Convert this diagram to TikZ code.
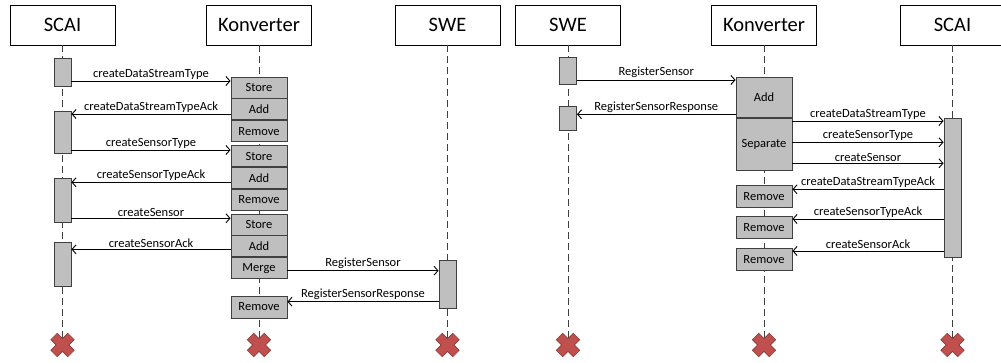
\documentclass[tikz,border=0pt]{standalone}
\usepackage{fontspec}
\setmainfont{Carlito}
\usetikzlibrary{arrows.meta,positioning}
\definecolor{boxgray}{HTML}{BFBFBF}
\definecolor{edgegray}{HTML}{404040}
\definecolor{killred}{HTML}{C0504D}
\definecolor{killedge}{HTML}{8C3836}
\begin{document}
\begin{tikzpicture}[x=1pt,y=-1pt,
  head/.style={draw,line width=0.9pt,minimum width=105,minimum height=40,inner sep=0,font=\fontsize{20.5}{24}\selectfont},
  life/.style={line width=0.9pt,draw=edgegray,dash pattern=on 7pt off 4pt},
  act/.style={draw=edgegray,fill=boxgray,line width=0.9pt,minimum width=17,inner sep=0},
  cell/.style={draw=edgegray,fill=boxgray,line width=0.9pt,minimum width=56,minimum height=21,inner sep=0,font=\fontsize{12.5}{14}\selectfont},
  msg/.style={line width=0.9pt,-{Straight Barb[length=4pt,width=9pt]}},
  lbl/.style={above,inner sep=1.5pt,font=\fontsize{12.5}{14}\selectfont},
  kill/.pic={\filldraw[fill=killred,draw=killedge,line width=0.6pt,rotate=45]
    (-4.5,-12) -- (4.5,-12) -- (4.5,-4.5) -- (12,-4.5) -- (12,4.5) -- (4.5,4.5) -- (4.5,12)
    -- (-4.5,12) -- (-4.5,4.5) -- (-12,4.5) -- (-12,-4.5) -- (-4.5,-4.5) -- cycle;}]
\useasboundingbox (0,0) rectangle (1001,363);

\node[head] (sH) at (62.5,25) {SCAI};
\node[head] (kH) at (259,25) {Konverter};
\node[head] (wH) at (447.5,25) {SWE};
\node[head] (wH2) at (568,25) {SWE};
\node[head] (kH2) at (764,25) {Konverter};
\node[head] (sH2) at (952.5,25) {SCAI};

\coordinate (x1) at (62.5,345);
\coordinate (x2) at (259,345);
\coordinate (x3) at (447.5,345);
\coordinate (x4) at (568,345);
\coordinate (x5) at (764,345);
\coordinate (x6) at (952.5,345);

\draw[life] (sH.south) -- (x1);
\draw[life] (kH.south) -- (x2);
\draw[life] (wH.south) -- (x3);
\draw[life] (wH2.south) -- (x4);
\draw[life] (kH2.south) -- (x5);
\draw[life] (sH2.south) -- (x6);

% left: SCAI -> Konverter -> SWE
\node[act,minimum height=28] (a1) at (62.5,72) {};
\node[act,minimum height=42] (a2) at (62.5,132) {};
\node[act,minimum height=44] (a3) at (62.5,200) {};
\node[act,minimum height=44] (a4) at (62.5,264) {};
\node[act,minimum height=48] (b1) at (447.5,284.5) {};

\node[cell] (st1) at (259,87.5) {Store};
\node[cell,below=0pt of st1] (ad1) {Add};
\node[cell,below=0pt of ad1] (rm1) {Remove};
\node[cell] (st2) at (259,156.2) {Store};
\node[cell,below=0pt of st2] (ad2) {Add};
\node[cell,below=0pt of ad2] (rm2) {Remove};
\node[cell] (st3) at (259,224.5) {Store};
\node[cell,below=0pt of st3] (ad3) {Add};
\node[cell,below=0pt of ad3] (mg3) {Merge};
\node[cell,minimum height=22] (rmL) at (259,307) {Remove};

\draw[msg] (a1.east |- 0,81) -- node[lbl]{createDataStreamType} (st1.west |- 0,81);
\draw[msg] (ad1.west |- 0,114) -- node[lbl]{createDataStreamTypeAck} (a2.east |- 0,114);
\draw[msg] (a2.east |- 0,150) -- node[lbl]{createSensorType} (st2.west |- 0,150);
\draw[msg] (ad2.west |- 0,182.3) -- node[lbl]{createSensorTypeAck} (a3.east |- 0,182.3);
\draw[msg] (a3.east |- 0,218.3) -- node[lbl]{createSensor} (st3.west |- 0,218.3);
\draw[msg] (ad3.west |- 0,249.3) -- node[lbl]{createSensorAck} (a4.east |- 0,249.3);
\draw[msg] (mg3.east |- 0,270.7) -- node[lbl]{RegisterSensor} (b1.west |- 0,270.7);
\draw[msg] (b1.west |- 0,301.7) -- node[lbl]{RegisterSensorResponse} (rmL.east |- 0,301.7);

% right: SWE -> Konverter -> SCAI
\node[act,minimum height=27] (c1) at (568,71.3) {};
\node[act,minimum height=24] (c2) at (568,118) {};
\node[act,minimum height=139.4] (d1) at (952.5,188) {};

\node[cell,minimum height=40] (addR) at (764,97.3) {Add};
\node[cell,minimum height=52.7,below=0pt of addR] (sepR) {Separate};
\node[cell,minimum height=22] (rr1) at (764,196.2) {Remove};
\node[cell,minimum height=22] (rr2) at (764,227.5) {Remove};
\node[cell,minimum height=22] (rr3) at (764,259.2) {Remove};

\draw[msg] (c1.east |- 0,80) -- node[lbl]{RegisterSensor} (addR.west |- 0,80);
\draw[msg] (addR.west |- 0,114.3) -- node[lbl]{RegisterSensorResponse} (c2.east |- 0,114.3);
\draw[msg] (sepR.east |- 0,121) -- node[lbl]{createDataStreamType} (d1.west |- 0,121);
\draw[msg] (sepR.east |- 0,142.3) -- node[lbl]{createSensorType} (d1.west |- 0,142.3);
\draw[msg] (sepR.east |- 0,163.3) -- node[lbl]{createSensor} (d1.west |- 0,163.3);
\draw[msg] (d1.west |- 0,189.3) -- node[lbl]{createDataStreamTypeAck} (rr1.east |- 0,189.3);
\draw[msg] (d1.west |- 0,219) -- node[lbl]{createSensorTypeAck} (rr2.east |- 0,219);
\draw[msg] (d1.west |- 0,251) -- node[lbl]{createSensorAck} (rr3.east |- 0,251);

\pic at (x1) {kill};
\pic at (x2) {kill};
\pic at (x3) {kill};
\pic at (x4) {kill};
\pic at (x5) {kill};
\pic at (x6) {kill};
\end{tikzpicture}
\end{document}
